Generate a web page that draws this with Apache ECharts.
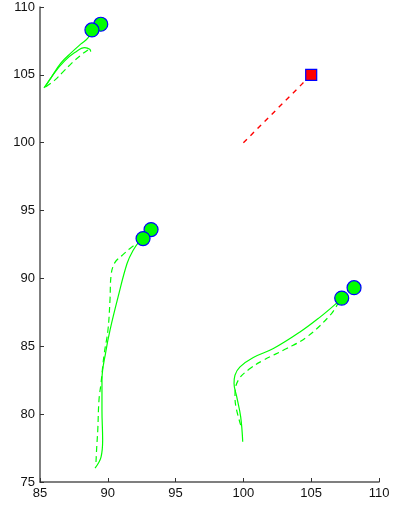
<!DOCTYPE html>
<html>
<head>
<meta charset="utf-8">
<script src="https://cdn.jsdelivr.net/npm/echarts@6/dist/echarts.min.js"></script>
<style>html,body{margin:0;padding:0;background:#fff;}#c{width:393px;height:506px;}</style>
</head>
<body>
<div id="c"></div>
<script>
// axis ticks
const xTicks = [85, 90, 95, 100, 105, 110];
const yTicks = [75, 80, 85, 90, 95, 100, 105, 110];

// group 1 (top-left)
const g1Solid = [[85.29,104.04],[85.81,104.78],[86.55,105.88],[87.29,106.62],[88.02,107.28],[88.54,107.72],[88.83,108.31]];
const g1SolidB = [[85.35,104.07],[86.08,105.17],[86.82,106.03],[87.56,106.64],[88.30,107.01],[88.67,106.89],[88.74,106.71]];
const g1Dashed = [[85.44,104.12],[86.11,104.63],[86.70,105.22],[87.36,105.88],[87.95,106.40],[88.54,106.84],[88.76,106.91]];
const g1Ends = [[89.48,108.73],[88.83,108.31]];

// group 2 (middle)
const g2Solid = [[89.06,76.03],[89.50,76.84],[89.62,78.09],[89.57,80.29],[89.57,82.50],[89.87,84.70],[90.16,86.18],[90.75,88.60],[91.42,91.10],[91.86,92.06],[92.37,92.79],[92.60,92.94]];
const g2Dashed = [[89.13,76.47],[89.18,77.50],[89.26,78.82],[89.35,81.03],[89.50,82.28],[89.72,84.34],[90.01,86.18],[90.16,88.38],[90.24,90.22],[90.53,91.18],[91.05,91.69],[91.64,92.21],[92.15,92.57]];
const g2Ends = [[93.19,93.60],[92.60,92.94]];

// group 3 (bottom-right)
const g3Solid = [[99.95,77.96],[99.80,79.80],[99.51,81.27],[99.31,82.26],[99.38,82.87],[99.75,83.48],[100.73,84.17],[102.21,84.83],[104.17,86.05],[105.65,87.15],[106.75,88.07],[107.25,88.55]];
const g3Dashed = [[99.80,79.19],[99.45,80.54],[99.38,81.40],[99.62,82.50],[100.49,83.36],[101.47,83.97],[103.19,84.83],[104.67,85.68],[106.39,87.28],[106.98,88.16]];
const g3Ends = [[108.16,89.32],[107.25,88.55]];

// target
const redTrack = [[100,100],[105,105]];
const redTarget = [[105,105]];

const green = '#00ff00';
function solid(d){return {type:'line',data:d,smooth:0.4,showSymbol:false,symbol:'none',lineStyle:{color:green,width:1.2,type:'solid'},z:2,animation:false};}
function dashed(d){return {type:'line',data:d,smooth:0.4,showSymbol:false,symbol:'none',lineStyle:{color:green,width:1.2,type:[6,4]},z:2,animation:false};}
function ends(d){return {type:'scatter',data:d,symbol:'circle',symbolSize:14,itemStyle:{color:green,borderColor:'#0000ff',borderWidth:1.2,opacity:1},z:5,animation:false};}

const chart = echarts.init(document.getElementById('c'));
chart.setOption({
  animation:false,
  backgroundColor:'#fff',
  grid:{left:40,right:14,top:7,bottom:24,containLabel:false},
  xAxis:{type:'value',min:xTicks[0],max:xTicks[xTicks.length-1],interval:5,
    axisLine:{show:true,onZero:false,lineStyle:{color:'#555',width:1.5}},
    axisTick:{show:true,inside:true,length:4,lineStyle:{color:'#333'}},
    axisLabel:{color:'#111',fontSize:13,fontFamily:'Liberation Sans, Arial, sans-serif',margin:5},
    splitLine:{show:false}},
  yAxis:{type:'value',min:yTicks[0],max:yTicks[yTicks.length-1],interval:5,
    axisLine:{show:true,onZero:false,lineStyle:{color:'#555',width:1.5}},
    axisTick:{show:true,inside:true,length:4,lineStyle:{color:'#333'}},
    axisLabel:{color:'#111',fontSize:13,fontFamily:'Liberation Sans, Arial, sans-serif',margin:5},
    splitLine:{show:false}},
  series:[
    solid(g1Solid), solid(g1SolidB), dashed(g1Dashed), ends(g1Ends),
    solid(g2Solid), dashed(g2Dashed), ends(g2Ends),
    solid(g3Solid), dashed(g3Dashed), ends(g3Ends),
    {type:'line',data:redTrack,showSymbol:false,symbol:'none',lineStyle:{color:'#ff0000',width:1.4,type:[5,5]},z:2},
    {type:'scatter',data:redTarget,symbol:'rect',symbolSize:11,itemStyle:{color:'#ff0000',borderColor:'#0000ff',borderWidth:1.2,opacity:1},z:5}
  ]
});
</script>
</body>
</html>
